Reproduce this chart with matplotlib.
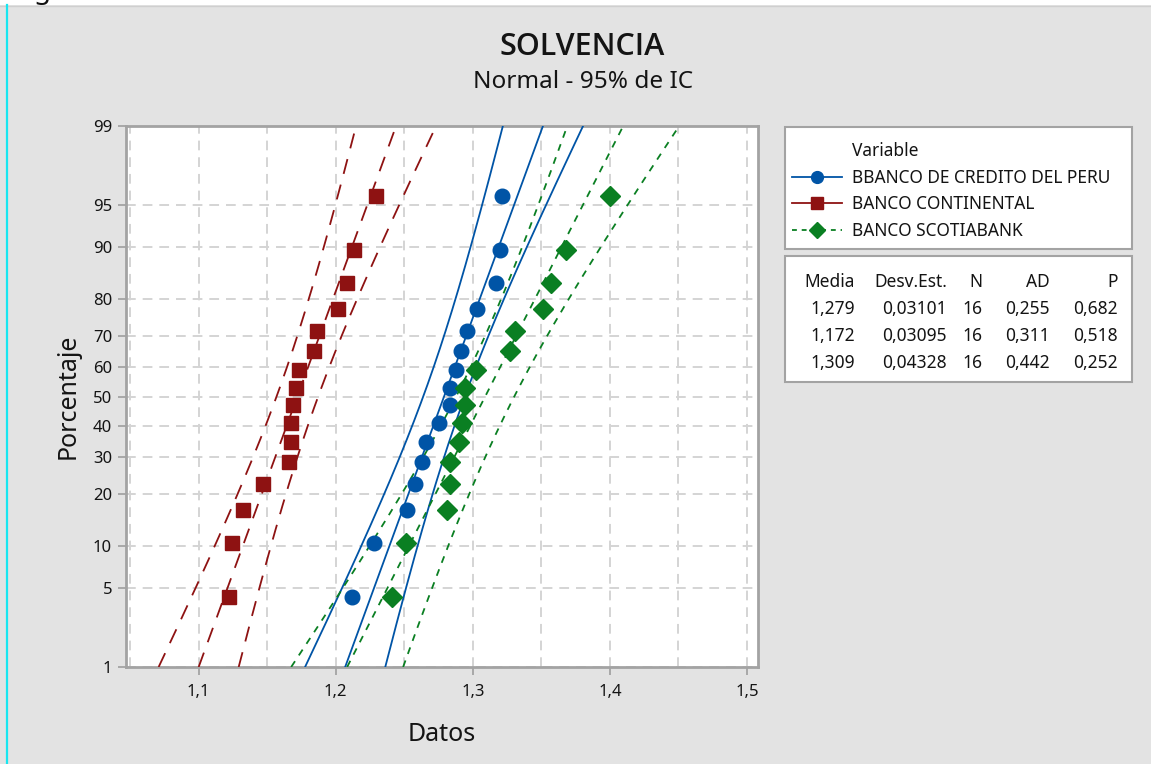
import numpy as np
import matplotlib
matplotlib.use("Agg")
import matplotlib.pyplot as plt
from matplotlib.lines import Line2D
from matplotlib.patches import Rectangle
from matplotlib.ticker import FixedLocator, FuncFormatter, MultipleLocator, NullLocator
from statistics import NormalDist

# ---------------- data ----------------
banco_credito = [1.212, 1.228, 1.252, 1.258, 1.263, 1.266, 1.275, 1.283,
                 1.283, 1.288, 1.291, 1.296, 1.303, 1.317, 1.320, 1.321]
banco_continental = [1.122, 1.124, 1.132, 1.147, 1.166, 1.167, 1.167, 1.169,
                     1.171, 1.173, 1.184, 1.186, 1.202, 1.208, 1.213, 1.229]
banco_scotiabank = [1.241, 1.251, 1.281, 1.283, 1.283, 1.290, 1.292, 1.294,
                    1.294, 1.302, 1.327, 1.331, 1.351, 1.357, 1.368, 1.400]
series_names = ["BBANCO DE CREDITO DEL PERU", "BANCO CONTINENTAL", "BANCO SCOTIABANK"]
media = [1.279, 1.172, 1.309]
desv_est = [0.03101, 0.03095, 0.04328]
n_obs = [16, 16, 16]
ad_stat = [0.255, 0.311, 0.442]
p_value = [0.682, 0.518, 0.252]
x_ticks = [1.1, 1.2, 1.3, 1.4, 1.5]
y_ticks = [1, 5, 10, 20, 30, 40, 50, 60, 70, 80, 90, 95, 99]
title = "SOLVENCIA"
subtitle = "Normal - 95% de IC"
x_label = "Datos"
y_label = "Porcentaje"

# ---------------- style ----------------
plt.rcParams["font.family"] = ["Noto Sans", "DejaVu Sans"]
plt.rcParams["lines.scale_dashes"] = False
W, H = 1151, 764
BG = "#e3e3e3"
FRAME = "#a3a3a3"
TXT = "#141414"
colors = ["#0054a6", "#8e1212", "#0a7f22"]
markers = ["o", "s", "D"]
msizes = [10.5, 10, 10.5]
line_dashes = [None, (11, 8), (5, 5)]

_nd = NormalDist()
_ppf = np.vectorize(lambda v: _nd.inv_cdf(v / 100.0), otypes=[float])
_cdf = np.vectorize(lambda v: _nd.cdf(v) * 100.0, otypes=[float])


def fwd(p):
    p = np.clip(np.asarray(p, dtype=float), 1e-6, 100 - 1e-6)
    return _ppf(p)


def inv(z):
    return _cdf(np.asarray(z, dtype=float))


fig = plt.figure(figsize=(W / 100, H / 100), dpi=100, facecolor=BG)

# top white strip + cyan edge (screenshot artefacts)
fig.add_artist(Rectangle((0, 1 - 5 / H), 1, 5 / H, transform=fig.transFigure,
                         facecolor="white", edgecolor="none"))
fig.add_artist(Line2D([0, 1], [1 - 5.5 / H, 1 - 5.5 / H], transform=fig.transFigure,
                      color="#cfcfcf", lw=1))
fig.add_artist(Line2D([6.5 / W, 6.5 / W], [0, 1 - 5 / H], transform=fig.transFigure,
                      color="#19e6f0", lw=1.6))
fig.text(42 / W, 1 - 5 / H, "g", fontsize=20, ha="center", va="bottom", color="#111111",
         clip_on=False)

ax = fig.add_axes([126 / W, 1 - 667 / H, (758 - 126) / W, (667 - 126) / H])
ax.set_facecolor("white")
ax.set_yscale("function", functions=(fwd, inv))
ax.set_ylim(1, 99)
ax.set_xlim(1.047, 1.508)

# fitted lines and confidence bands
zgrid = np.linspace(fwd(1.0), fwd(99.0), 300)
pgrid = inv(zgrid)
datasets = [banco_credito, banco_continental, banco_scotiabank]
for data, mu, sd, n, col, mk, ms, dsh in zip(datasets, media, desv_est, n_obs,
                                             colors, markers, msizes, line_dashes):
    z = fwd(pgrid)
    xfit = mu + z * sd
    hw = 1.96 * sd * np.sqrt(1.0 / n + z ** 2 / (2.0 * n))
    for xx in (xfit - hw, xfit, xfit + hw):
        ln, = ax.plot(xx, pgrid, color=col, lw=1.3, zorder=3)
        if dsh is not None:
            ln.set_dashes(dsh)
    srt = np.sort(np.asarray(data))
    ranks = np.arange(1, len(srt) + 1)
    pp = (ranks - 0.3) / (len(srt) + 0.4) * 100.0
    ax.plot(srt, pp, linestyle="none", marker=mk, markersize=ms, color=col,
            markeredgecolor=col, zorder=5)

# axes and grid
ax.xaxis.set_major_locator(FixedLocator(x_ticks))
ax.xaxis.set_minor_locator(MultipleLocator(0.05))
ax.xaxis.set_major_formatter(FuncFormatter(lambda v, p: f"{v:.1f}".replace(".", ",")))
ax.yaxis.set_major_locator(FixedLocator(y_ticks))
ax.yaxis.set_minor_locator(NullLocator())
ax.yaxis.set_major_formatter(FuncFormatter(lambda v, p: f"{v:g}"))
ax.grid(True, which="both", color="#d4d4d4", linestyle=(0, (7, 5)), linewidth=1.4, zorder=0)
ax.set_axisbelow(True)
for s in ax.spines.values():
    s.set_color(FRAME)
    s.set_linewidth(2)
ax.tick_params(which="major", direction="out", length=6, width=1.3, color=FRAME,
               labelsize=12, labelcolor=TXT, pad=4)
ax.tick_params(axis="x", which="major", pad=6)
ax.tick_params(which="minor", length=0)
ax.set_xlabel(x_label, fontsize=18, color=TXT, labelpad=16)
ax.set_ylabel(y_label, fontsize=18, color=TXT, labelpad=9)

# titles
fig.text(582 / W, 1 - 47 / H, title, fontsize=22, ha="center", va="center",
         color=TXT, fontweight="semibold", family=["Open Sans", "Noto Sans", "DejaVu Sans"])
fig.text(583 / W, 1 - 82 / H, subtitle, fontsize=17.5, ha="center", va="center",
         color=TXT)

# legend (frame drawn separately)
fig.add_artist(Rectangle((785 / W, 1 - 249 / H), (1132 - 785) / W, (249 - 127) / H,
                         transform=fig.transFigure, facecolor="white",
                         edgecolor=FRAME, linewidth=1.5, zorder=1))
handles = [Line2D([], [], linestyle="none", label="Variable")]
leg_dashes = [None, None, (3.5, 3.5)]
for name, col, mk, dsh in zip(series_names, colors, markers, leg_dashes):
    h = Line2D([], [], color=col, marker=mk, markersize=8.5, lw=1.3, label=name)
    if dsh is not None:
        h.set_dashes(dsh)
    handles.append(h)
leg = fig.legend(handles=handles, loc="upper left",
                 bbox_to_anchor=(792 / W, 1 - 142 / H),
                 fontsize=12.5, frameon=False,
                 handlelength=2.9, handletextpad=0.55, labelspacing=0.5,
                 borderpad=0, borderaxespad=0)
leg.set_zorder(2)
for t in leg.get_texts():
    t.set_color(TXT)

# statistics table
fig.add_artist(Rectangle((785 / W, 1 - 382 / H), (1132 - 785) / W, (382 - 256) / H,
                         transform=fig.transFigure, facecolor="white",
                         edgecolor=FRAME, linewidth=1.5))
col_right = [855, 947, 982, 1050, 1118]
row_y = [282, 309, 336, 363]
headers = ["Media", "Desv.Est.", "N", "AD", "P"]
for cx, hd in zip(col_right, headers):
    fig.text(cx / W, 1 - row_y[0] / H, hd, fontsize=12.5, ha="right", va="center",
             color=TXT)
for i in range(3):
    vals = [f"{media[i]:.3f}", f"{desv_est[i]:.5f}", f"{n_obs[i]}",
            f"{ad_stat[i]:.3f}", f"{p_value[i]:.3f}"]
    for cx, v in zip(col_right, vals):
        fig.text(cx / W, 1 - row_y[i + 1] / H, v.replace(".", ","), fontsize=12.5,
                 ha="right", va="center", color=TXT)

fig.savefig("out.png", dpi=100, facecolor=BG)
